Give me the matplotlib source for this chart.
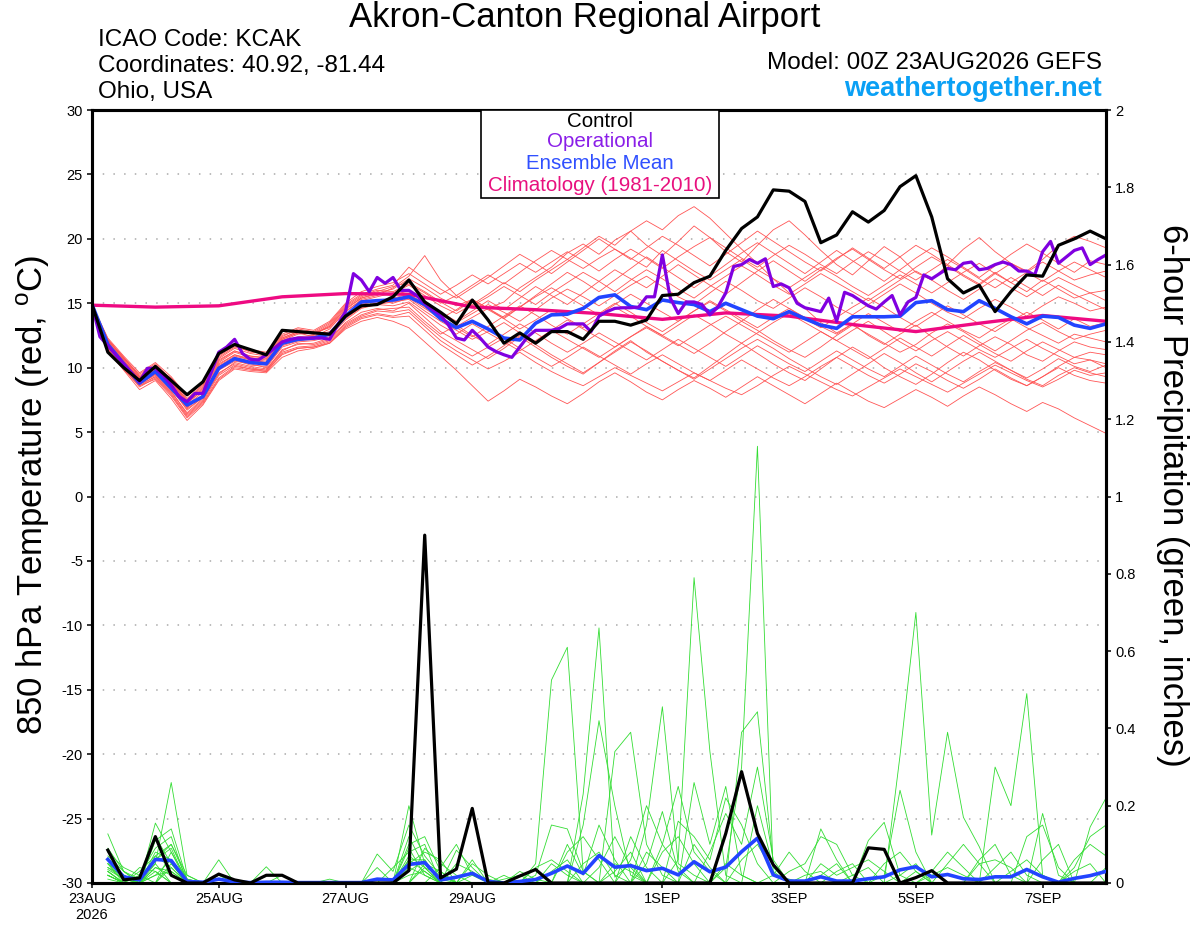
"""GEFS 850 hPa temperature and 6-hour precipitation plume for KCAK."""

import matplotlib
matplotlib.use('Agg')
import matplotlib.pyplot as plt
from matplotlib.patches import Rectangle
import numpy as np

plt.rcParams['font.family'] = ['Liberation Sans', 'DejaVu Sans']
plt.rcParams['mathtext.default'] = 'regular'

# ── Data (6-hourly steps from 00Z 23AUG2026) ──

tick_days = [0, 2, 4, 6, 9, 11, 13, 15]
tick_labels = ['23AUG\n2026', '25AUG', '27AUG', '29AUG', '1SEP', '3SEP', '5SEP', '7SEP']

control_temp = [
    14.9, 11.2, 10.0, 9.0, 10.1, 9.0, 7.9, 8.9, 11.1, 11.8, 11.4,
    11.0, 12.9, 12.8, 12.7, 12.6, 14.0, 14.8, 14.9, 15.5, 16.8, 15.1,
    14.3, 13.4, 15.25, 13.7, 11.9, 12.7, 11.9, 12.8, 12.8, 12.2, 13.6,
    13.6, 13.3, 13.7, 15.6, 15.7, 16.6, 17.1, 19.1, 20.8, 21.7, 23.8,
    23.7, 22.9, 19.7, 20.3, 22.1, 21.3, 22.2, 24.05, 24.9, 21.7, 16.9,
    15.8, 16.4, 14.35, 15.9, 17.2, 17.1, 19.5, 20.0, 20.6, 20.0,
]

mean_temp = [
    14.9, 11.8, 10.3, 8.8, 9.7, 8.4, 7.1, 7.75, 9.95, 10.7, 10.4,
    10.3, 11.9, 12.2, 12.3, 12.6, 14.0, 15.1, 15.2, 15.25, 15.5, 14.9,
    13.8, 13.1, 13.6, 13.0, 12.3, 12.15, 13.45, 14.1, 14.15, 14.6, 15.45,
    15.65, 14.75, 14.5, 15.25, 15.05, 14.9, 14.35, 15.0, 14.5, 14.0, 13.8,
    14.35, 13.8, 13.3, 13.05, 13.95, 13.95, 13.95, 14.0, 15.05, 15.2, 14.5,
    14.35, 15.2, 14.6, 13.95, 13.4, 14.0, 13.9, 13.3, 13.05, 13.4,
]

# operational run is 3-hourly
oper_temp = [
    14.9, 12.4, 11.7, 11.0, 10.3, 9.6, 8.9, 9.95, 9.95, 9.4, 8.65,
    7.75, 7.36, 8.0, 8.0, 9.56, 11.2, 11.6, 12.2, 11.1, 10.65, 10.6,
    11.0, 11.5, 12.0, 12.2, 12.3, 12.3, 12.3, 12.3, 12.2, 13.3, 14.35,
    17.3, 16.8, 15.9, 17.0, 16.55, 17.0, 16.0, 16.0, 15.6, 15.0, 14.5,
    14.1, 13.3, 12.3, 12.15, 12.9, 12.3, 11.6, 11.25, 11.0, 10.8, 11.6,
    12.4, 12.9, 12.9, 12.9, 13.05, 13.4, 13.4, 13.4, 12.8, 14.0, 14.35,
    14.6, 14.65, 14.65, 14.7, 15.5, 15.5, 18.75, 15.4, 14.2, 15.1, 15.1,
    14.9, 14.1, 14.7, 15.8, 17.85, 18.0, 18.4, 18.1, 18.45, 16.3, 16.5,
    16.2, 15.0, 14.65, 14.5, 14.35, 15.4, 13.6, 15.85, 15.6, 15.2, 14.8,
    14.55, 15.1, 15.6, 14.1, 15.1, 15.45, 17.2, 16.9, 17.3, 17.7, 17.6,
    18.1, 18.2, 17.6, 17.7, 18.0, 18.2, 18.0, 17.5, 17.5, 17.2, 19.0,
    19.8, 18.1, 18.6, 19.1, 19.3, 18.0, 18.4, 18.75,
]

# climatology, one value per day at 00Z
clim_temp = [14.85, 14.7, 14.8, 15.5, 15.75, 15.7, 14.7, 14.5, 14.2,
             13.75, 14.25, 14.0, 13.35, 12.8, 13.45, 14.05, 13.6]

member_temp = [
    [14.9, 12.1, 10.7, 9.5, 10.3, 9.1, 7.4, 8.5, 10.7, 11.5, 11.1,
     10.9, 12.3, 12.8, 12.6, 13.2, 14.6, 15.4, 15.8, 16.1, 16.9, 16.2,
     15.4, 14.8, 15.3, 14.6, 15.1, 16.2, 17.0, 17.8, 18.9, 19.6, 18.8,
     19.9, 20.6, 19.5, 18.7, 19.8, 21.0, 20.1, 19.0, 18.2, 19.5, 20.7,
     21.4, 20.3, 19.1, 18.0, 17.2, 18.3, 19.4, 18.6, 17.4, 16.8, 18.0,
     19.2, 20.1, 19.0, 18.1, 17.5, 18.4, 19.5, 20.2, 19.8, 19.3],
    [14.9, 11.5, 10.0, 8.6, 9.3, 8.1, 6.5, 7.6, 9.5, 10.4, 10.1,
     9.9, 11.3, 11.9, 11.8, 12.2, 13.5, 14.3, 14.6, 14.4, 15.0, 13.9,
     12.8, 12.1, 11.4, 10.7, 11.5, 12.4, 11.6, 10.8, 10.1, 9.5, 10.4,
     11.3, 12.1, 11.2, 10.5, 9.8, 9.2, 10.1, 11.0, 11.9, 11.1, 10.3,
     9.6, 9.0, 9.9, 10.8, 11.6, 10.9, 10.0, 9.3, 8.7, 9.5, 10.4,
     11.2, 10.6, 9.8, 9.1, 8.6, 9.3, 10.1, 10.8, 10.6, 10.3],
    [14.9, 11.9, 10.4, 9.0, 9.9, 8.7, 7.0, 7.8, 10.1, 10.9, 10.6,
     10.4, 12.0, 12.4, 12.5, 12.8, 14.1, 15.0, 15.1, 15.4, 15.7, 15.0,
     14.1, 13.5, 14.2, 14.9, 14.3, 13.6, 14.5, 15.4, 16.1, 15.5, 14.8,
     15.6, 16.4, 17.1, 16.3, 15.5, 14.9, 15.8, 16.7, 16.0, 15.2, 14.6,
     15.4, 16.2, 15.5, 14.7, 14.1, 14.9, 15.7, 16.5, 15.8, 15.0, 14.3,
     13.8, 14.6, 15.3, 14.7, 14.0, 14.8, 15.5, 15.0, 14.4, 14.7],
    [14.9, 11.7, 10.1, 8.7, 9.5, 8.3, 6.8, 7.7, 9.8, 10.5, 10.3,
     10.0, 11.6, 12.0, 12.1, 12.4, 13.7, 14.6, 14.9, 15.1, 15.3, 14.4,
     13.6, 12.9, 12.2, 12.8, 13.5, 12.7, 12.0, 12.9, 13.7, 13.0, 12.3,
     11.6, 12.4, 13.2, 12.5, 11.8, 11.1, 11.9, 12.8, 13.6, 12.9, 12.1,
     11.4, 10.8, 11.6, 12.5, 13.3, 12.6, 11.9, 11.2, 11.8, 12.7, 13.4,
     12.8, 12.0, 11.3, 12.1, 12.9, 13.5, 12.8, 12.2, 12.6, 12.9],
    [14.9, 12.2, 10.8, 9.3, 10.0, 9.2, 7.6, 8.7, 10.9, 11.7, 11.2,
     11.1, 12.5, 12.9, 12.7, 13.4, 14.8, 15.6, 16.0, 15.9, 16.5, 15.8,
     15.0, 15.6, 16.4, 17.2, 16.5, 17.4, 18.3, 19.1, 18.4, 19.3, 20.2,
     19.5, 20.6, 21.4, 20.7, 21.8, 22.5, 21.6, 20.4, 19.2, 18.1, 16.9,
     15.8, 14.6, 13.5, 12.7, 13.4, 12.5, 11.8, 12.6, 13.3, 12.4, 11.6,
     10.9, 11.7, 12.4, 11.8, 11.0, 10.5, 11.3, 12.0, 11.6, 11.4],
    [14.9, 11.4, 9.9, 8.5, 9.2, 7.9, 6.2, 7.3, 9.2, 10.1, 9.9,
     9.7, 11.0, 11.5, 11.6, 12.0, 13.2, 13.9, 14.2, 14.0, 14.3, 13.2,
     12.1, 11.3, 10.6, 9.9, 10.5, 11.2, 10.4, 9.7, 9.1, 8.6, 9.3,
     10.0, 9.4, 8.8, 8.2, 8.9, 9.6, 9.0, 8.4, 7.9, 8.6, 9.4,
     10.1, 9.5, 8.9, 8.3, 7.8, 8.5, 9.2, 9.9, 9.3, 8.7, 8.1,
     8.8, 9.5, 10.2, 9.6, 9.0, 8.5, 9.1, 9.8, 9.4, 9.6],
    [14.9, 12.0, 10.5, 9.2, 10.2, 8.9, 7.3, 8.2, 10.4, 11.2, 10.8,
     10.6, 12.2, 12.7, 12.4, 13.0, 14.4, 15.2, 15.5, 15.8, 16.4, 15.6,
     14.8, 14.2, 14.9, 15.7, 16.6, 15.9, 16.8, 17.6, 18.4, 17.7, 18.5,
     19.2, 18.5, 17.8, 19.1, 18.3, 17.5, 16.8, 17.6, 18.4, 17.6, 16.9,
     16.2, 17.0, 17.8, 17.1, 16.3, 15.6, 16.4, 17.2, 16.5, 15.8, 16.6,
     17.4, 18.1, 17.3, 16.6, 17.4, 18.2, 17.5, 16.8, 17.2, 17.5],
    [14.9, 11.8, 10.3, 8.9, 9.6, 8.6, 6.9, 7.9, 10.0, 10.7, 10.4,
     10.2, 11.8, 12.1, 12.3, 12.5, 13.9, 14.8, 15.0, 15.3, 15.6, 14.7,
     13.9, 13.2, 13.9, 14.6, 13.8, 13.0, 13.7, 14.5, 13.8, 13.1, 13.9,
     14.7, 14.0, 13.2, 12.5, 13.3, 14.1, 13.4, 12.6, 11.9, 12.7, 13.5,
     14.2, 13.5, 12.8, 12.1, 12.9, 13.6, 12.8, 12.0, 11.3, 12.1, 12.8,
     12.1, 11.4, 10.8, 11.5, 12.2, 11.5, 10.9, 10.3, 10.6, 10.0],
    [14.9, 11.3, 9.8, 8.3, 9.0, 7.6, 5.9, 7.1, 9.0, 9.9, 9.7,
     9.6, 10.8, 11.3, 11.5, 11.9, 13.0, 13.6, 13.9, 13.6, 13.1, 12.0,
     10.9, 9.8, 8.6, 7.4, 8.2, 9.1, 8.5, 7.8, 7.2, 8.0, 8.9,
     9.6, 8.9, 8.1, 7.5, 8.3, 9.0, 8.4, 7.7, 8.5, 9.3, 8.6,
     7.9, 7.2, 8.0, 8.8, 8.1, 7.4, 6.9, 7.6, 8.3, 7.7, 7.0,
     7.8, 8.5, 7.9, 7.2, 6.6, 7.3, 6.8, 6.1, 5.5, 4.9],
    [14.9, 12.0, 10.6, 9.1, 9.8, 8.8, 7.1, 8.1, 10.3, 11.0, 10.7,
     10.5, 12.1, 12.6, 12.7, 13.1, 14.3, 15.3, 15.6, 16.2, 17.1, 18.7,
     16.8, 15.6, 14.8, 15.5, 16.3, 15.6, 14.9, 15.8, 16.6, 17.4, 16.7,
     15.9, 16.8, 17.6, 16.9, 16.1, 15.4, 16.3, 17.1, 17.9, 17.2, 16.4,
     15.7, 16.5, 17.3, 16.6, 15.9, 15.2, 16.0, 16.8, 17.5, 16.8, 16.0,
     15.3, 16.1, 16.9, 16.2, 15.5, 16.3, 17.0, 16.4, 15.8, 16.0],
    [14.9, 11.6, 10.2, 8.8, 9.4, 8.2, 6.4, 7.5, 9.6, 10.3, 10.0,
     9.8, 11.4, 11.8, 11.9, 12.3, 13.4, 14.1, 14.5, 14.6, 14.7, 13.6,
     12.6, 13.3, 12.5, 11.8, 12.6, 13.4, 12.7, 11.9, 11.2, 11.9, 12.7,
     12.0, 11.3, 10.6, 11.4, 12.2, 11.5, 10.8, 10.1, 10.9, 11.7, 11.0,
     10.3, 9.7, 10.5, 11.3, 10.6, 9.9, 9.3, 10.1, 10.9, 10.2, 9.5,
     8.9, 9.7, 10.4, 9.8, 9.1, 8.6, 9.4, 10.0, 9.6, 9.3],
    [14.9, 12.3, 10.9, 9.6, 10.4, 9.3, 7.8, 8.8, 11.0, 11.8, 11.4,
     11.2, 12.6, 13.1, 12.9, 13.6, 15.0, 15.9, 16.3, 16.6, 17.3, 16.5,
     15.7, 16.4, 17.2, 16.5, 17.3, 18.1, 17.4, 18.2, 19.0, 18.3, 17.5,
     18.4, 19.2, 18.5, 17.7, 18.6, 19.4, 20.1, 19.3, 18.5, 17.8, 18.7,
     19.5, 18.8, 18.0, 17.3, 18.2, 19.0, 18.3, 17.5, 16.8, 17.6, 18.4,
     17.7, 16.9, 16.2, 17.0, 16.3, 15.6, 16.4, 15.7, 15.1, 14.5],
    [14.9, 11.9, 10.5, 9.1, 9.8, 8.6, 6.9, 7.9, 10.2, 11.0, 10.6,
     10.4, 11.9, 12.3, 12.4, 12.7, 14.0, 14.9, 15.2, 15.0, 15.4, 14.6,
     13.8, 14.5, 15.3, 14.6, 13.9, 14.7, 15.5, 16.2, 15.5, 14.8, 14.1,
     14.9, 15.7, 15.0, 14.3, 13.6, 14.4, 15.2, 14.5, 13.8, 13.1, 13.9,
     14.6, 13.9, 13.2, 12.6, 13.4, 14.2, 13.5, 12.8, 13.6, 14.3, 13.6,
     12.9, 12.3, 13.1, 13.8, 13.1, 12.5, 11.9, 12.6, 12.3, 12.0],
    [14.9, 11.5, 10.0, 8.7, 9.3, 8.0, 6.3, 7.4, 9.4, 10.2, 9.9,
     9.8, 11.2, 11.6, 11.7, 12.1, 13.3, 14.0, 14.4, 14.3, 14.5, 13.4,
     12.4, 11.6, 10.9, 11.6, 12.3, 11.5, 10.8, 10.1, 10.8, 11.6, 10.9,
     10.2, 9.5, 10.3, 11.0, 10.3, 9.6, 9.0, 9.8, 10.6, 9.9, 9.2,
     8.6, 9.3, 10.1, 10.8, 10.1, 9.4, 8.8, 9.5, 10.3, 9.7, 9.0,
     8.4, 9.1, 9.9, 9.2, 8.6, 9.3, 10.0, 9.4, 9.0, 8.8],
    [14.9, 12.1, 10.8, 9.4, 10.1, 9.0, 7.5, 8.6, 10.8, 11.6, 11.3,
     11.0, 12.4, 13.0, 12.8, 13.5, 14.9, 15.7, 16.1, 16.4, 17.8, 16.9,
     16.1, 15.4, 16.2, 17.0, 17.9, 18.8, 18.1, 17.3, 18.2, 19.1, 20.0,
     19.2, 18.4, 19.3, 20.2, 19.5, 18.7, 17.9, 18.8, 19.7, 20.6, 19.8,
     19.0, 18.2, 17.5, 18.4, 19.3, 18.5, 17.7, 18.6, 19.5, 18.8, 18.0,
     17.2, 16.5, 17.4, 16.6, 15.9, 16.8, 16.1, 15.4, 15.8, 15.2],
    [14.9, 11.7, 10.2, 8.8, 9.5, 8.4, 6.7, 7.7, 9.9, 10.6, 10.2,
     10.1, 11.7, 12.1, 12.2, 12.6, 13.8, 14.7, 14.9, 14.8, 15.1, 14.2,
     13.3, 12.6, 13.4, 12.7, 12.0, 11.3, 12.1, 12.9, 12.2, 11.5, 10.8,
     11.6, 12.4, 13.1, 12.4, 11.7, 12.5, 13.3, 14.0, 13.3, 12.6, 11.9,
     11.2, 12.0, 12.8, 12.1, 11.4, 10.7, 11.5, 12.3, 11.6, 10.9, 11.7,
     12.5, 11.8, 11.1, 10.5, 11.3, 12.0, 11.4, 10.8, 11.2, 11.0],
    [14.9, 12.2, 10.7, 9.3, 10.0, 9.0, 7.3, 8.4, 10.6, 11.3, 10.9,
     10.7, 12.2, 12.7, 12.6, 13.2, 14.5, 15.4, 15.7, 15.6, 16.0, 15.2,
     14.3, 13.6, 14.4, 15.2, 14.5, 15.4, 16.3, 15.6, 14.9, 15.8, 16.7,
     17.6, 16.9, 16.2, 17.1, 18.0, 17.2, 16.4, 15.7, 16.6, 17.5, 18.3,
     17.5, 16.7, 17.6, 18.5, 19.2, 18.4, 17.6, 16.9, 17.8, 18.6, 17.9,
     17.1, 16.4, 17.3, 18.1, 17.4, 16.7, 17.5, 18.2, 17.6, 17.0],
    [14.9, 11.8, 10.4, 9.0, 9.7, 8.5, 7.0, 7.8, 10.0, 10.8, 10.5,
     10.3, 11.8, 12.2, 12.3, 12.6, 13.9, 14.7, 15.0, 15.2, 15.6, 14.8,
     13.9, 13.1, 12.4, 13.2, 14.0, 14.8, 14.1, 13.3, 12.6, 13.4, 14.2,
     15.0, 14.3, 13.5, 12.8, 13.6, 14.4, 15.1, 14.4, 13.6, 14.5, 15.3,
     14.6, 13.8, 13.1, 13.9, 14.7, 15.4, 14.7, 13.9, 13.2, 14.0, 14.8,
     14.1, 13.4, 12.8, 13.6, 14.3, 13.7, 13.0, 13.8, 13.2, 13.5],
    [14.9, 11.4, 9.9, 8.6, 9.1, 7.8, 6.1, 7.2, 9.1, 10.0, 9.8,
     9.7, 11.1, 11.5, 11.6, 11.9, 13.1, 13.8, 14.1, 13.9, 14.0, 12.9,
     11.8, 11.0, 10.2, 10.9, 11.7, 12.5, 11.8, 11.0, 10.3, 9.6, 10.4,
     11.2, 12.0, 11.3, 10.5, 9.8, 9.1, 9.9, 10.7, 11.5, 12.2, 11.5,
     10.7, 10.0, 9.3, 8.7, 9.5, 10.3, 11.1, 10.4, 9.6, 8.9, 9.7,
     10.5, 11.2, 10.5, 9.8, 9.2, 9.9, 10.7, 10.1, 9.7, 10.2],
    [14.9, 12.0, 10.6, 9.2, 9.9, 8.9, 7.2, 8.3, 10.5, 11.3, 10.9,
     10.8, 12.3, 12.8, 12.6, 13.3, 14.7, 15.5, 15.9, 16.3, 16.6, 15.9,
     15.1, 14.4, 15.2, 14.5, 13.8, 14.7, 15.6, 16.5, 17.4, 16.7, 15.9,
     16.8, 17.7, 18.6, 17.8, 17.0, 16.2, 17.1, 18.0, 18.9, 19.7, 18.9,
     18.1, 17.3, 18.2, 19.1, 18.3, 17.5, 16.7, 17.6, 18.5, 19.3, 18.6,
     17.8, 17.0, 17.9, 18.8, 19.6, 18.9, 18.1, 17.4, 18.3, 18.0],
]

# precipitation: 6-hour totals ending at hour 6, 12, ... 384
control_precip = [
    0.085, 0.008, 0.013, 0.12, 0.02, 0.0, 0.0, 0.023, 0.008, 0.0,
    0.02, 0.02, 0.0, 0.0, 0.0, 0.0, 0.0, 0.0, 0.0, 0.032,
    0.90, 0.013, 0.036, 0.193, 0.0, 0.0, 0.018, 0.035, 0.0, 0.0,
    0.0, 0.0, 0.0, 0.0, 0.0, 0.0, 0.0, 0.0, 0.0, 0.128,
    0.288, 0.128, 0.047, 0.0, 0.0, 0.0, 0.0, 0.0, 0.091, 0.087,
    0.0, 0.014, 0.032, 0.0, 0.0, 0.0, 0.0, 0.0, 0.0, 0.0,
    0.0, 0.0, 0.0, 0.0,
]

mean_precip = [
    0.061, 0.016, 0.008, 0.061, 0.058, 0.004, 0.002, 0.01, 0.003, 0.001,
    0.002, 0.002, 0.001, 0.001, 0.001, 0.001, 0.001, 0.01, 0.008, 0.048,
    0.053, 0.008, 0.015, 0.025, 0.004, 0.0, 0.004, 0.009, 0.025, 0.044,
    0.025, 0.071, 0.041, 0.045, 0.032, 0.038, 0.021, 0.055, 0.029, 0.041,
    0.081, 0.116, 0.021, 0.005, 0.005, 0.016, 0.005, 0.005, 0.011, 0.016,
    0.034, 0.042, 0.016, 0.022, 0.011, 0.009, 0.016, 0.016, 0.035, 0.016,
    0.002, 0.012, 0.019, 0.03,
]

# members: {step: inches}, steps not listed are dry
member_precip = [
    {1: 0.127, 2: 0.03, 3: 0.01, 4: 0.05, 5: 0.26, 6: 0.02, 20: 0.2, 21: 0.05, 22: 0.01,
     28: 0.05, 29: 0.525, 30: 0.61, 31: 0.03, 46: 0.02, 47: 0.05},
    {1: 0.06, 2: 0.02, 4: 0.155, 5: 0.08, 6: 0.01, 18: 0.075, 19: 0.03, 20: 0.15, 21: 0.07,
     22: 0.02, 31: 0.23, 32: 0.66, 33: 0.015, 34: 0.05, 52: 0.03},
    {1: 0.08, 2: 0.04, 3: 0.02, 4: 0.09, 5: 0.12, 8: 0.06, 20: 0.1, 21: 0.12, 22: 0.03,
     31: 0.15, 32: 0.42, 33: 0.2, 34: 0.02, 41: 0.39, 42: 0.443, 43: 0.05},
    {1: 0.04, 2: 0.01, 4: 0.11, 5: 0.14, 6: 0.01, 11: 0.042, 20: 0.06, 21: 0.03, 23: 0.085,
     24: 0.04, 33: 0.34, 34: 0.39, 35: 0.1, 36: 0.02, 57: 0.3, 58: 0.2, 59: 0.49, 60: 0.02},
    {1: 0.03, 3: 0.03, 4: 0.07, 5: 0.1, 6: 0.02, 20: 0.05, 21: 0.08, 22: 0.06, 35: 0.15,
     36: 0.456, 37: 0.05, 38: 0.02, 51: 0.33, 52: 0.70, 53: 0.124, 54: 0.39, 55: 0.17, 56: 0.094},
    {1: 0.02, 4: 0.06, 5: 0.09, 37: 0.06, 38: 0.79, 39: 0.34, 40: 0.02, 46: 0.14, 47: 0.06},
    {1: 0.05, 2: 0.02, 4: 0.08, 5: 0.06, 40: 0.04, 41: 0.3, 42: 1.13, 43: 0.02, 44: 0.01,
     60: 0.18, 61: 0.02},
    {1: 0.01, 4: 0.04, 5: 0.03, 19: 0.04, 20: 0.08, 21: 0.1, 38: 0.26, 39: 0.1, 40: 0.25,
     41: 0.02, 49: 0.11, 50: 0.157, 51: 0.02},
    {1: 0.035, 2: 0.01, 5: 0.05, 18: 0.04, 20: 0.07, 21: 0.04, 28: 0.02, 29: 0.15, 30: 0.14,
     31: 0.03, 35: 0.05, 36: 0.185, 37: 0.03, 50: 0.02, 51: 0.24, 52: 0.08, 63: 0.145, 64: 0.22},
    {1: 0.07, 2: 0.03, 4: 0.12, 5: 0.05, 21: 0.05, 22: 0.03, 24: 0.06, 30: 0.1, 31: 0.02,
     32: 0.15, 33: 0.06, 42: 0.2, 43: 0.04, 56: 0.05, 57: 0.06, 58: 0.04},
    {1: 0.02, 4: 0.03, 8: 0.01, 20: 0.03, 21: 0.06, 23: 0.05, 24: 0.03, 29: 0.05, 30: 0.02,
     34: 0.12, 35: 0.04, 44: 0.03, 45: 0.05, 46: 0.12, 47: 0.1, 48: 0.02, 62: 0.06, 63: 0.1, 64: 0.07},
    {1: 0.05, 3: 0.02, 5: 0.08, 20: 0.12, 21: 0.04, 26: 0.01, 27: 0.02, 31: 0.05, 32: 0.08,
     33: 0.02, 37: 0.16, 38: 0.12, 39: 0.06, 40: 0.22, 41: 0.15, 42: 0.05, 53: 0.03, 54: 0.08, 55: 0.04},
    {1: 0.03, 4: 0.02, 5: 0.03, 22: 0.04, 23: 0.1, 24: 0.02, 30: 0.08, 31: 0.12, 32: 0.06,
     36: 0.08, 37: 0.12, 38: 0.05, 46: 0.05, 47: 0.02, 48: 0.04, 49: 0.06, 50: 0.03, 59: 0.12,
     60: 0.15, 61: 0.04},
    {1: 0.06, 2: 0.02, 4: 0.05, 20: 0.02, 21: 0.03, 33: 0.05, 34: 0.03, 39: 0.08, 40: 0.18,
     41: 0.1, 42: 0.3, 43: 0.06, 51: 0.02, 52: 0.05, 62: 0.04, 63: 0.12, 64: 0.15},
    {1: 0.04, 2: 0.02, 5: 0.04, 24: 0.02, 25: 0.01, 29: 0.03, 30: 0.06, 34: 0.06, 35: 0.2,
     36: 0.1, 37: 0.04, 43: 0.02, 44: 0.08, 45: 0.03, 56: 0.06, 57: 0.1, 58: 0.02},
    {1: 0.02, 3: 0.04, 4: 0.03, 20: 0.04, 21: 0.02, 36: 0.1, 37: 0.25, 38: 0.08, 39: 0.03,
     48: 0.02, 49: 0.04, 54: 0.05, 55: 0.1, 56: 0.05, 60: 0.06, 61: 0.1},
    {1: 0.09, 2: 0.03, 4: 0.07, 5: 0.04, 8: 0.02, 21: 0.09, 22: 0.05, 23: 0.02, 32: 0.04,
     33: 0.12, 34: 0.04, 41: 0.06, 42: 0.1, 43: 0.03, 53: 0.02, 54: 0.04, 55: 0.02},
    {1: 0.03, 4: 0.02, 5: 0.06, 20: 0.06, 21: 0.06, 26: 0.02, 28: 0.04, 29: 0.06, 30: 0.03,
     38: 0.1, 39: 0.04, 50: 0.05, 51: 0.08, 52: 0.03, 58: 0.03, 59: 0.06, 60: 0.02, 64: 0.04},
    {1: 0.05, 2: 0.01, 4: 0.04, 5: 0.02, 15: 0.01, 21: 0.04, 22: 0.02, 27: 0.03, 28: 0.01,
     35: 0.08, 36: 0.04, 45: 0.02, 46: 0.03, 57: 0.04, 58: 0.08, 59: 0.02},
    {1: 0.02, 4: 0.06, 5: 0.1, 6: 0.01, 12: 0.02, 20: 0.09, 21: 0.02, 24: 0.05, 25: 0.02,
     33: 0.03, 34: 0.08, 40: 0.05, 41: 0.02, 47: 0.03, 48: 0.05, 62: 0.03, 63: 0.05},
]

# ── Plot ──

W, H = 1200, 927
fig = plt.figure(figsize=(W / 100, H / 100), dpi=100)
ax = fig.add_axes([92 / W, 1 - 883 / H, (1106 - 92) / W, (883 - 110) / H])
ax2 = ax.twinx()

hours6 = np.arange(65) * 6
hours3 = np.arange(len(oper_temp)) * 3
clim_hours = np.arange(len(clim_temp)) * 24
precip_hours = np.arange(1, 65) * 6

for m in member_temp:
    ax.plot(hours6[:len(m)], m, color='#ff5555', lw=0.6, zorder=2)
ax.plot(clim_hours, clim_temp, color='#ee0a82', lw=2.4, zorder=4)
ax.plot(hours6, mean_temp, color='#2244ff', lw=2.6, zorder=5)
ax.plot(hours3, oper_temp, color='#8000e0', lw=2.3, zorder=6)
ax.plot(hours6, control_temp, color='black', lw=2.3, zorder=7)

for d in member_precip:
    vals = np.zeros(64)
    for step, v in d.items():
        vals[step - 1] = v
    ax2.plot(precip_hours, vals, color='#33dd33', lw=0.6, zorder=2)
ax2.plot(precip_hours, mean_precip, color='#2244ff', lw=2.6, zorder=5)
ax2.plot(precip_hours, control_precip, color='black', lw=2.3, zorder=6)

ax.set_xlim(0, 384)
ax.set_ylim(-30, 30)
ax2.set_ylim(0, 2)

ax.set_yticks(np.arange(-30, 31, 5))
ax.set_yticklabels([str(v) for v in range(-30, 31, 5)])
ax.yaxis.grid(True, linestyle=(0, (1, 6)), color='#aaaaaa', lw=1.1)
ax.set_axisbelow(True)
rt = np.round(np.arange(0, 2.01, 0.2), 1)
ax2.set_yticks(rt)
ax2.set_yticklabels([f'{v:g}' for v in rt])

ax.set_xticks([d * 24 for d in tick_days])
ax.set_xticklabels(tick_labels)

for a in (ax, ax2):
    for s in a.spines.values():
        s.set_linewidth(2.2)
    a.tick_params(direction='out', length=3.5, width=1.1, labelsize=10.5, pad=3)

# legend box
ax2.add_patch(Rectangle((0.3836, 0.8862), 0.2347, 0.1138, transform=ax2.transAxes,
                        facecolor='white', edgecolor='black', lw=1.2, zorder=20))
legend_items = [('Control', 'black'), ('Operational', '#8a1ee8'),
                ('Ensemble Mean', '#3050ff'), ('Climatology (1981-2010)', '#e8107e')]
for (txt, col), yy in zip(legend_items, [121, 141, 163, 185]):
    ax2.text(0.501, 1 - (yy - 110) / 773, txt, color=col, fontsize=14.8,
             ha='center', va='center', transform=ax2.transAxes, zorder=21)

# header and axis titles
fig.text(585 / W, 1 - 18 / H, 'Akron-Canton Regional Airport', fontsize=25,
         ha='center', va='center')
for txt, yy in [('ICAO Code: KCAK', 40), ('Coordinates: 40.92, -81.44', 66), ('Ohio, USA', 92)]:
    fig.text(98 / W, 1 - yy / H, txt, fontsize=17.5, ha='left', va='center')
fig.text(1102 / W, 1 - 63 / H, 'Model: 00Z 23AUG2026 GEFS', fontsize=17.5,
         ha='right', va='center')
fig.text(1102 / W, 1 - 89 / H, 'weathertogether.net', fontsize=19.5, fontweight='bold',
         color='#0aa0f5', ha='right', va='center')
fig.text(33 / W, 1 - 495 / H, '850 hPa Temperature (red, $^{o}$C)', fontsize=25,
         rotation=90, ha='center', va='center')
fig.text(1172 / W, 1 - 495 / H, '6-hour Precipitation (green, inches)', fontsize=25,
         rotation=270, ha='center', va='center')

fig.savefig('out.png', dpi=100)
print('Saved out.png')
